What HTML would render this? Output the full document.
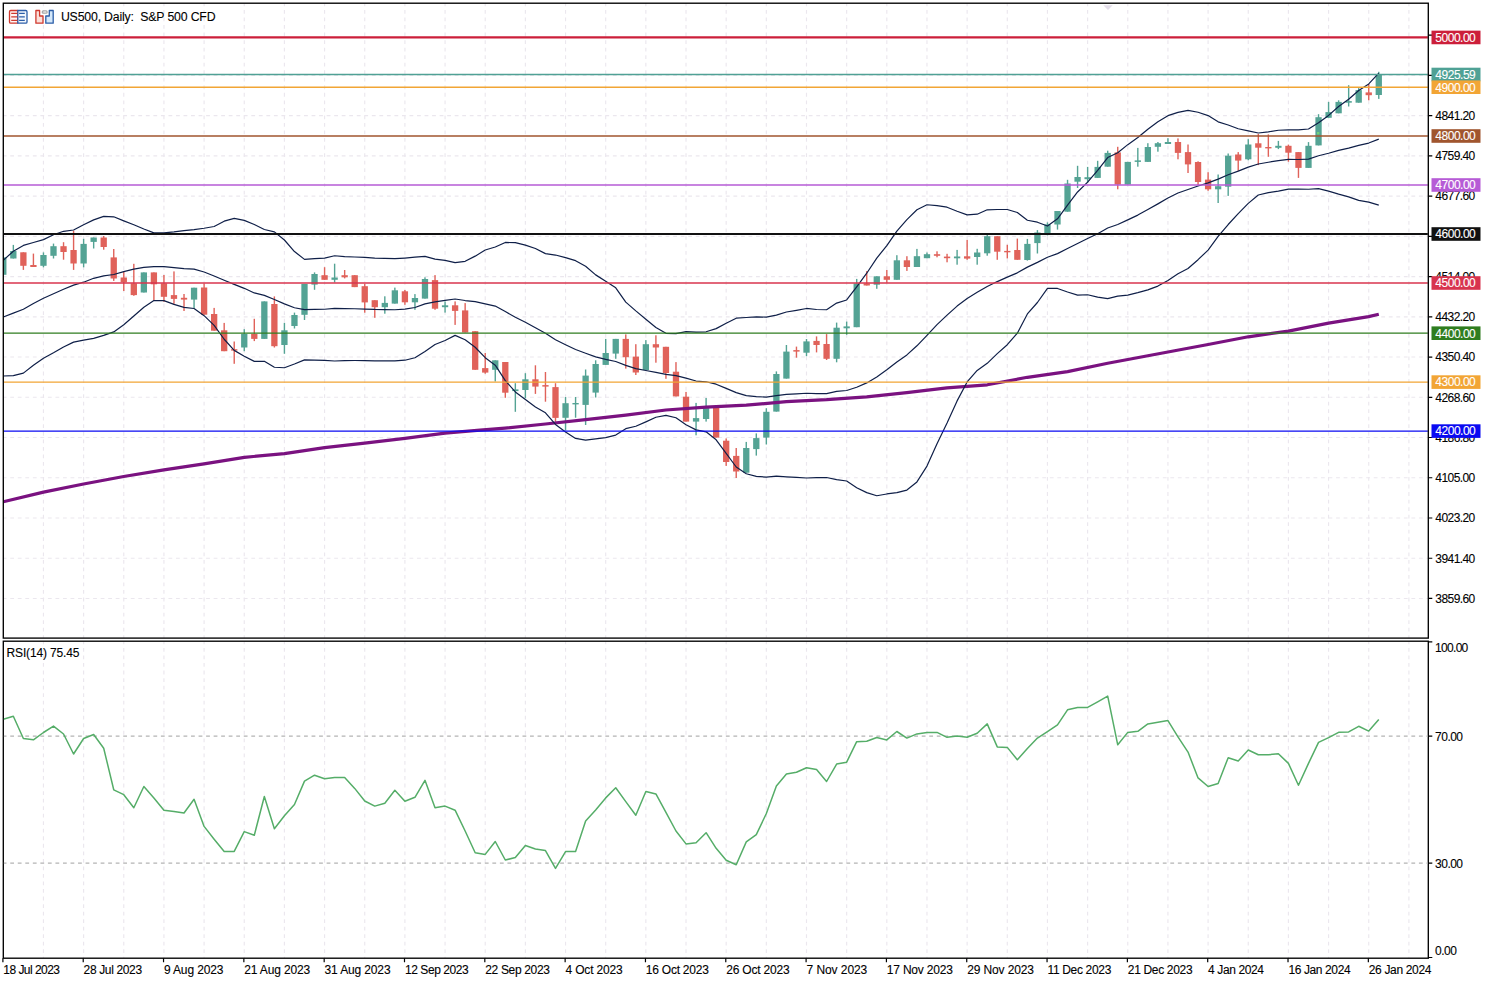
<!DOCTYPE html><html><head><meta charset="utf-8"><style>html,body{margin:0;padding:0;background:#fff;width:1488px;height:983px;overflow:hidden}svg{display:block}text{font-family:"Liberation Sans",sans-serif}</style></head><body>
<svg width="1488" height="983" viewBox="0 0 1488 983">
<defs><clipPath id="cm"><rect x="3.8" y="3.7" width="1424" height="634"/></clipPath><clipPath id="cr"><rect x="3.8" y="641.7" width="1424" height="316"/></clipPath></defs>
<path d="M43.46 3.2V638.1M43.46 641.2V958.2M83.62 3.2V638.1M83.62 641.2V958.2M123.78 3.2V638.1M123.78 641.2V958.2M163.94 3.2V638.1M163.94 641.2V958.2M204.1 3.2V638.1M204.1 641.2V958.2M244.26 3.2V638.1M244.26 641.2V958.2M284.42 3.2V638.1M284.42 641.2V958.2M324.58 3.2V638.1M324.58 641.2V958.2M364.74 3.2V638.1M364.74 641.2V958.2M404.9 3.2V638.1M404.9 641.2V958.2M445.06 3.2V638.1M445.06 641.2V958.2M485.22 3.2V638.1M485.22 641.2V958.2M525.38 3.2V638.1M525.38 641.2V958.2M565.54 3.2V638.1M565.54 641.2V958.2M605.7 3.2V638.1M605.7 641.2V958.2M645.86 3.2V638.1M645.86 641.2V958.2M686.02 3.2V638.1M686.02 641.2V958.2M726.18 3.2V638.1M726.18 641.2V958.2M766.34 3.2V638.1M766.34 641.2V958.2M806.5 3.2V638.1M806.5 641.2V958.2M846.66 3.2V638.1M846.66 641.2V958.2M886.82 3.2V638.1M886.82 641.2V958.2M926.98 3.2V638.1M926.98 641.2V958.2M967.14 3.2V638.1M967.14 641.2V958.2M1007.3 3.2V638.1M1007.3 641.2V958.2M1047.46 3.2V638.1M1047.46 641.2V958.2M1087.62 3.2V638.1M1087.62 641.2V958.2M1127.78 3.2V638.1M1127.78 641.2V958.2M1167.94 3.2V638.1M1167.94 641.2V958.2M1208.1 3.2V638.1M1208.1 641.2V958.2M1248.26 3.2V638.1M1248.26 641.2V958.2M1288.42 3.2V638.1M1288.42 641.2V958.2M1328.58 3.2V638.1M1328.58 641.2V958.2M1368.74 3.2V638.1M1368.74 641.2V958.2M1408.9 3.2V638.1M1408.9 641.2V958.2" stroke="#ebe7ee" stroke-width="1.15" stroke-dasharray="3.8 3.733" stroke-dashoffset="0.73" fill="none"/>
<path d="M3.3 75.38H1428.3M3.3 115.61H1428.3M3.3 155.85H1428.3M3.3 196.09H1428.3M3.3 236.33H1428.3M3.3 276.56H1428.3M3.3 316.8H1428.3M3.3 357.04H1428.3M3.3 397.28H1428.3M3.3 437.51H1428.3M3.3 477.75H1428.3M3.3 517.99H1428.3M3.3 558.23H1428.3M3.3 598.46H1428.3" stroke="#ebe7ee" stroke-width="1.15" stroke-dasharray="3.8 3.733" stroke-dashoffset="0.58" fill="none"/>
<path d="M1103.3 5.2H1112.7L1108 9.9z" fill="#e4deea"/>
<g clip-path="url(#cm)">
<rect x="2.6" y="257.4" width="1.4" height="17.4" fill="#54a394"/>
<rect x="0.15" y="257.4" width="6.3" height="17.4" fill="#54a394"/>
<rect x="12.64" y="244.9" width="1.4" height="13.6" fill="#54a394"/>
<rect x="10.19" y="251" width="6.3" height="7.5" fill="#54a394"/>
<rect x="22.68" y="252.3" width="1.4" height="17.6" fill="#e0625a"/>
<rect x="20.23" y="252.3" width="6.3" height="13.5" fill="#e0625a"/>
<rect x="32.72" y="253.6" width="1.4" height="13.4" fill="#e0625a"/>
<rect x="30.27" y="265" width="6.3" height="2" fill="#e0625a"/>
<rect x="42.76" y="252.4" width="1.4" height="14.9" fill="#54a394"/>
<rect x="40.31" y="255" width="6.3" height="10.8" fill="#54a394"/>
<rect x="52.8" y="243.6" width="1.4" height="14.9" fill="#54a394"/>
<rect x="50.35" y="246.2" width="6.3" height="9.6" fill="#54a394"/>
<rect x="62.84" y="242.2" width="1.4" height="17.5" fill="#e0625a"/>
<rect x="60.39" y="246.2" width="6.3" height="5.8" fill="#e0625a"/>
<rect x="72.88" y="230.7" width="1.4" height="39.2" fill="#e0625a"/>
<rect x="70.43" y="250" width="6.3" height="13.5" fill="#e0625a"/>
<rect x="82.92" y="238.8" width="1.4" height="28.5" fill="#54a394"/>
<rect x="80.47" y="243.9" width="6.3" height="19.6" fill="#54a394"/>
<rect x="92.96" y="237.5" width="1.4" height="11" fill="#54a394"/>
<rect x="90.51" y="237.5" width="6.3" height="4.4" fill="#54a394"/>
<rect x="103" y="236" width="1.4" height="13.7" fill="#e0625a"/>
<rect x="100.55" y="237.5" width="6.3" height="9.5" fill="#e0625a"/>
<rect x="113.04" y="249" width="1.4" height="31.9" fill="#e0625a"/>
<rect x="110.59" y="257.4" width="6.3" height="21.1" fill="#e0625a"/>
<rect x="123.08" y="271.4" width="1.4" height="19.6" fill="#e0625a"/>
<rect x="120.63" y="277.5" width="6.3" height="4.8" fill="#e0625a"/>
<rect x="133.12" y="263.8" width="1.4" height="32" fill="#e0625a"/>
<rect x="130.67" y="283.3" width="6.3" height="11.8" fill="#e0625a"/>
<rect x="143.16" y="272.4" width="1.4" height="20.1" fill="#54a394"/>
<rect x="140.71" y="272.4" width="6.3" height="20.1" fill="#54a394"/>
<rect x="153.2" y="272.4" width="1.4" height="28" fill="#e0625a"/>
<rect x="150.75" y="272.4" width="6.3" height="11.9" fill="#e0625a"/>
<rect x="163.24" y="275" width="1.4" height="26.9" fill="#e0625a"/>
<rect x="160.79" y="283.3" width="6.3" height="13.5" fill="#e0625a"/>
<rect x="173.28" y="271.4" width="1.4" height="32.5" fill="#e0625a"/>
<rect x="170.83" y="295.1" width="6.3" height="3.8" fill="#e0625a"/>
<rect x="183.32" y="294" width="1.4" height="17" fill="#e0625a"/>
<rect x="180.87" y="297.8" width="6.3" height="1.8" fill="#e0625a"/>
<rect x="193.36" y="287.7" width="1.4" height="20.3" fill="#54a394"/>
<rect x="190.91" y="287.7" width="6.3" height="11.9" fill="#54a394"/>
<rect x="203.4" y="283.5" width="1.4" height="31.2" fill="#e0625a"/>
<rect x="200.95" y="287.5" width="6.3" height="27.2" fill="#e0625a"/>
<rect x="213.44" y="307.9" width="1.4" height="22.8" fill="#e0625a"/>
<rect x="210.99" y="314" width="6.3" height="16.7" fill="#e0625a"/>
<rect x="223.48" y="322.9" width="1.4" height="28.3" fill="#e0625a"/>
<rect x="221.03" y="330.3" width="6.3" height="20.9" fill="#e0625a"/>
<rect x="233.52" y="341.5" width="1.4" height="22.3" fill="#e0625a"/>
<rect x="231.07" y="349.2" width="6.3" height="1.4" fill="#e0625a"/>
<rect x="243.56" y="329.2" width="1.4" height="22" fill="#54a394"/>
<rect x="241.11" y="333.9" width="6.3" height="13.6" fill="#54a394"/>
<rect x="253.6" y="318.8" width="1.4" height="22.3" fill="#e0625a"/>
<rect x="251.15" y="333.9" width="6.3" height="5" fill="#e0625a"/>
<rect x="263.64" y="301.4" width="1.4" height="37.5" fill="#54a394"/>
<rect x="261.19" y="301.4" width="6.3" height="37.5" fill="#54a394"/>
<rect x="273.68" y="296.4" width="1.4" height="51.1" fill="#e0625a"/>
<rect x="271.23" y="304" width="6.3" height="42.2" fill="#e0625a"/>
<rect x="283.72" y="322.9" width="1.4" height="30.9" fill="#54a394"/>
<rect x="281.27" y="330.3" width="6.3" height="14.7" fill="#54a394"/>
<rect x="293.76" y="312.6" width="1.4" height="15.9" fill="#54a394"/>
<rect x="291.31" y="315" width="6.3" height="11" fill="#54a394"/>
<rect x="303.8" y="283.9" width="1.4" height="36.1" fill="#54a394"/>
<rect x="301.35" y="283.9" width="6.3" height="30.9" fill="#54a394"/>
<rect x="313.84" y="272.4" width="1.4" height="17.4" fill="#54a394"/>
<rect x="311.39" y="274" width="6.3" height="10.6" fill="#54a394"/>
<rect x="323.88" y="267.2" width="1.4" height="12.6" fill="#e0625a"/>
<rect x="321.43" y="275.2" width="6.3" height="4.6" fill="#e0625a"/>
<rect x="333.92" y="263.7" width="1.4" height="18.8" fill="#54a394"/>
<rect x="331.47" y="277.5" width="6.3" height="2.3" fill="#54a394"/>
<rect x="343.96" y="270" width="1.4" height="8.4" fill="#e0625a"/>
<rect x="341.51" y="275.2" width="6.3" height="2.1" fill="#e0625a"/>
<rect x="354" y="275.2" width="1.4" height="11.9" fill="#e0625a"/>
<rect x="351.55" y="275.2" width="6.3" height="11.9" fill="#e0625a"/>
<rect x="364.04" y="283.9" width="1.4" height="28.8" fill="#e0625a"/>
<rect x="361.59" y="286.2" width="6.3" height="16.2" fill="#e0625a"/>
<rect x="374.08" y="300.2" width="1.4" height="17.6" fill="#e0625a"/>
<rect x="371.63" y="300.2" width="6.3" height="7" fill="#e0625a"/>
<rect x="384.12" y="296.3" width="1.4" height="17.4" fill="#54a394"/>
<rect x="381.67" y="302.9" width="6.3" height="4.3" fill="#54a394"/>
<rect x="394.16" y="287.6" width="1.4" height="16" fill="#54a394"/>
<rect x="391.71" y="290.3" width="6.3" height="13.3" fill="#54a394"/>
<rect x="404.2" y="290" width="1.4" height="14.8" fill="#e0625a"/>
<rect x="401.75" y="291.3" width="6.3" height="11" fill="#e0625a"/>
<rect x="414.24" y="294.1" width="1.4" height="15.7" fill="#54a394"/>
<rect x="411.79" y="298" width="6.3" height="4.3" fill="#54a394"/>
<rect x="424.28" y="277.3" width="1.4" height="21.3" fill="#54a394"/>
<rect x="421.83" y="279" width="6.3" height="19.6" fill="#54a394"/>
<rect x="434.32" y="275.1" width="1.4" height="34.7" fill="#e0625a"/>
<rect x="431.87" y="280.1" width="6.3" height="28.6" fill="#e0625a"/>
<rect x="444.36" y="301.4" width="1.4" height="11.2" fill="#54a394"/>
<rect x="441.91" y="305.3" width="6.3" height="1.9" fill="#54a394"/>
<rect x="454.4" y="301.4" width="1.4" height="23.5" fill="#e0625a"/>
<rect x="451.95" y="305.3" width="6.3" height="5.6" fill="#e0625a"/>
<rect x="464.44" y="303.1" width="1.4" height="29.4" fill="#e0625a"/>
<rect x="461.99" y="310.4" width="6.3" height="22.1" fill="#e0625a"/>
<rect x="474.48" y="331.2" width="1.4" height="38.6" fill="#e0625a"/>
<rect x="472.03" y="331.2" width="6.3" height="38.6" fill="#e0625a"/>
<rect x="484.52" y="353" width="1.4" height="20.7" fill="#e0625a"/>
<rect x="482.07" y="368.1" width="6.3" height="4.5" fill="#e0625a"/>
<rect x="494.56" y="360.3" width="1.4" height="21.2" fill="#54a394"/>
<rect x="492.11" y="360.3" width="6.3" height="9.5" fill="#54a394"/>
<rect x="504.6" y="362" width="1.4" height="35.8" fill="#e0625a"/>
<rect x="502.15" y="362" width="6.3" height="30.7" fill="#e0625a"/>
<rect x="514.64" y="383.2" width="1.4" height="28.6" fill="#54a394"/>
<rect x="512.19" y="389.4" width="6.3" height="1.7" fill="#54a394"/>
<rect x="524.68" y="373.2" width="1.4" height="25.1" fill="#54a394"/>
<rect x="522.23" y="379.3" width="6.3" height="10.7" fill="#54a394"/>
<rect x="534.72" y="365.3" width="1.4" height="28.6" fill="#e0625a"/>
<rect x="532.27" y="379.3" width="6.3" height="7.3" fill="#e0625a"/>
<rect x="544.76" y="372" width="1.4" height="29.7" fill="#e0625a"/>
<rect x="542.31" y="385.1" width="6.3" height="1.5" fill="#e0625a"/>
<rect x="554.8" y="383.2" width="1.4" height="38.6" fill="#e0625a"/>
<rect x="552.35" y="387.1" width="6.3" height="30.8" fill="#e0625a"/>
<rect x="564.84" y="397" width="1.4" height="33.5" fill="#54a394"/>
<rect x="562.39" y="403.2" width="6.3" height="14.6" fill="#54a394"/>
<rect x="574.88" y="397" width="1.4" height="20.7" fill="#54a394"/>
<rect x="572.43" y="403" width="6.3" height="1.4" fill="#54a394"/>
<rect x="584.92" y="369.5" width="1.4" height="55.5" fill="#54a394"/>
<rect x="582.47" y="375.6" width="6.3" height="29.3" fill="#54a394"/>
<rect x="594.96" y="360.3" width="1.4" height="37.2" fill="#54a394"/>
<rect x="592.51" y="364" width="6.3" height="28.6" fill="#54a394"/>
<rect x="605" y="338.9" width="1.4" height="26" fill="#54a394"/>
<rect x="602.55" y="353" width="6.3" height="11.9" fill="#54a394"/>
<rect x="615.04" y="338.9" width="1.4" height="19.9" fill="#54a394"/>
<rect x="612.59" y="338.9" width="6.3" height="14.7" fill="#54a394"/>
<rect x="625.08" y="334.4" width="1.4" height="34.2" fill="#e0625a"/>
<rect x="622.63" y="338.9" width="6.3" height="18.3" fill="#e0625a"/>
<rect x="635.12" y="344.2" width="1.4" height="30.8" fill="#e0625a"/>
<rect x="632.67" y="356.6" width="6.3" height="15.9" fill="#e0625a"/>
<rect x="645.16" y="340.1" width="1.4" height="29.9" fill="#54a394"/>
<rect x="642.71" y="344.2" width="6.3" height="25.8" fill="#54a394"/>
<rect x="655.2" y="335.3" width="1.4" height="27.4" fill="#e0625a"/>
<rect x="652.75" y="344.2" width="6.3" height="3.3" fill="#e0625a"/>
<rect x="665.24" y="346.8" width="1.4" height="32" fill="#e0625a"/>
<rect x="662.79" y="346.8" width="6.3" height="26.2" fill="#e0625a"/>
<rect x="675.28" y="362.1" width="1.4" height="34.3" fill="#e0625a"/>
<rect x="672.83" y="371.7" width="6.3" height="24.7" fill="#e0625a"/>
<rect x="685.32" y="391.9" width="1.4" height="29.7" fill="#e0625a"/>
<rect x="682.87" y="396.7" width="6.3" height="24.9" fill="#e0625a"/>
<rect x="695.36" y="402.9" width="1.4" height="32.4" fill="#54a394"/>
<rect x="692.91" y="418.1" width="6.3" height="3.5" fill="#54a394"/>
<rect x="705.4" y="398" width="1.4" height="23.6" fill="#54a394"/>
<rect x="702.95" y="407.9" width="6.3" height="11.1" fill="#54a394"/>
<rect x="715.44" y="407.9" width="1.4" height="29.7" fill="#e0625a"/>
<rect x="712.99" y="407.9" width="6.3" height="29.7" fill="#e0625a"/>
<rect x="725.48" y="438.4" width="1.4" height="27.5" fill="#e0625a"/>
<rect x="723.03" y="440.7" width="6.3" height="21.3" fill="#e0625a"/>
<rect x="735.52" y="448" width="1.4" height="30" fill="#e0625a"/>
<rect x="733.07" y="455.9" width="6.3" height="15.6" fill="#e0625a"/>
<rect x="745.56" y="441.9" width="1.4" height="30.8" fill="#54a394"/>
<rect x="743.11" y="448" width="6.3" height="24.7" fill="#54a394"/>
<rect x="755.6" y="433.4" width="1.4" height="22.2" fill="#54a394"/>
<rect x="753.15" y="438.1" width="6.3" height="11" fill="#54a394"/>
<rect x="765.64" y="408.2" width="1.4" height="36.3" fill="#54a394"/>
<rect x="763.19" y="411.8" width="6.3" height="25.8" fill="#54a394"/>
<rect x="775.68" y="371.4" width="1.4" height="40.2" fill="#54a394"/>
<rect x="773.23" y="374" width="6.3" height="37.6" fill="#54a394"/>
<rect x="785.72" y="345" width="1.4" height="33.6" fill="#54a394"/>
<rect x="783.27" y="351.6" width="6.3" height="27" fill="#54a394"/>
<rect x="795.76" y="346.6" width="1.4" height="11.1" fill="#e0625a"/>
<rect x="793.31" y="350.1" width="6.3" height="1.5" fill="#e0625a"/>
<rect x="805.8" y="339" width="1.4" height="17.2" fill="#54a394"/>
<rect x="803.35" y="341.4" width="6.3" height="11.3" fill="#54a394"/>
<rect x="815.84" y="336.4" width="1.4" height="16" fill="#e0625a"/>
<rect x="813.39" y="340.9" width="6.3" height="4.1" fill="#e0625a"/>
<rect x="825.88" y="334.1" width="1.4" height="25.9" fill="#e0625a"/>
<rect x="823.43" y="344" width="6.3" height="14.8" fill="#e0625a"/>
<rect x="835.92" y="322.6" width="1.4" height="39.7" fill="#54a394"/>
<rect x="833.47" y="327.7" width="6.3" height="31.1" fill="#54a394"/>
<rect x="845.96" y="321.6" width="1.4" height="13.2" fill="#54a394"/>
<rect x="843.51" y="326.4" width="6.3" height="1.9" fill="#54a394"/>
<rect x="856" y="278.9" width="1.4" height="48.3" fill="#54a394"/>
<rect x="853.55" y="283.4" width="6.3" height="43.8" fill="#54a394"/>
<rect x="866.04" y="271.1" width="1.4" height="14.4" fill="#e0625a"/>
<rect x="863.59" y="283.4" width="6.3" height="2.1" fill="#e0625a"/>
<rect x="876.08" y="276.3" width="1.4" height="12.5" fill="#54a394"/>
<rect x="873.63" y="276.3" width="6.3" height="8.4" fill="#54a394"/>
<rect x="886.12" y="270" width="1.4" height="12.8" fill="#e0625a"/>
<rect x="883.67" y="276.3" width="6.3" height="3.5" fill="#e0625a"/>
<rect x="896.16" y="255.2" width="1.4" height="24.6" fill="#54a394"/>
<rect x="893.71" y="260.3" width="6.3" height="19.5" fill="#54a394"/>
<rect x="906.2" y="256.2" width="1.4" height="14.7" fill="#e0625a"/>
<rect x="903.75" y="260.3" width="6.3" height="6.7" fill="#e0625a"/>
<rect x="916.24" y="248.9" width="1.4" height="18.1" fill="#54a394"/>
<rect x="913.79" y="256.2" width="6.3" height="10.8" fill="#54a394"/>
<rect x="926.28" y="252.5" width="1.4" height="5.7" fill="#54a394"/>
<rect x="923.83" y="254.2" width="6.3" height="4" fill="#54a394"/>
<rect x="936.32" y="251.3" width="1.4" height="6" fill="#e0625a"/>
<rect x="933.87" y="254.2" width="6.3" height="1.6" fill="#e0625a"/>
<rect x="946.36" y="253.8" width="1.4" height="8.5" fill="#e0625a"/>
<rect x="943.91" y="256.6" width="6.3" height="1.6" fill="#e0625a"/>
<rect x="956.4" y="249.9" width="1.4" height="14.8" fill="#54a394"/>
<rect x="953.95" y="256.5" width="6.3" height="1.8" fill="#54a394"/>
<rect x="966.44" y="239.9" width="1.4" height="19.9" fill="#e0625a"/>
<rect x="963.99" y="256.3" width="6.3" height="2.3" fill="#e0625a"/>
<rect x="976.48" y="248.8" width="1.4" height="15.9" fill="#54a394"/>
<rect x="974.03" y="252.5" width="6.3" height="4.5" fill="#54a394"/>
<rect x="986.52" y="235" width="1.4" height="20.7" fill="#54a394"/>
<rect x="984.07" y="236.2" width="6.3" height="17.1" fill="#54a394"/>
<rect x="996.56" y="236.2" width="1.4" height="23.6" fill="#e0625a"/>
<rect x="994.11" y="236.2" width="6.3" height="15.5" fill="#e0625a"/>
<rect x="1006.6" y="244.8" width="1.4" height="13.6" fill="#e0625a"/>
<rect x="1004.15" y="250.9" width="6.3" height="1.4" fill="#e0625a"/>
<rect x="1016.64" y="238.6" width="1.4" height="21.2" fill="#e0625a"/>
<rect x="1014.19" y="250" width="6.3" height="9.8" fill="#e0625a"/>
<rect x="1026.68" y="238.9" width="1.4" height="21.7" fill="#54a394"/>
<rect x="1024.23" y="243.9" width="6.3" height="16.1" fill="#54a394"/>
<rect x="1036.72" y="230.1" width="1.4" height="23.4" fill="#54a394"/>
<rect x="1034.27" y="232.5" width="6.3" height="10.6" fill="#54a394"/>
<rect x="1046.76" y="222.4" width="1.4" height="13" fill="#54a394"/>
<rect x="1044.31" y="224.4" width="6.3" height="10.2" fill="#54a394"/>
<rect x="1056.8" y="211" width="1.4" height="18.6" fill="#54a394"/>
<rect x="1054.35" y="211" width="6.3" height="13.5" fill="#54a394"/>
<rect x="1066.84" y="179.8" width="1.4" height="31.9" fill="#54a394"/>
<rect x="1064.39" y="183.5" width="6.3" height="28.2" fill="#54a394"/>
<rect x="1076.88" y="165.8" width="1.4" height="22.2" fill="#54a394"/>
<rect x="1074.43" y="177" width="6.3" height="4.7" fill="#54a394"/>
<rect x="1086.92" y="166.9" width="1.4" height="15.7" fill="#54a394"/>
<rect x="1084.47" y="177.2" width="6.3" height="2" fill="#54a394"/>
<rect x="1096.96" y="160.8" width="1.4" height="17.1" fill="#54a394"/>
<rect x="1094.51" y="166.9" width="6.3" height="11" fill="#54a394"/>
<rect x="1107" y="150.7" width="1.4" height="16" fill="#54a394"/>
<rect x="1104.55" y="152.9" width="6.3" height="13.8" fill="#54a394"/>
<rect x="1117.04" y="146.8" width="1.4" height="42.5" fill="#e0625a"/>
<rect x="1114.59" y="152.4" width="6.3" height="32.2" fill="#e0625a"/>
<rect x="1127.08" y="161.9" width="1.4" height="22.7" fill="#54a394"/>
<rect x="1124.63" y="161.9" width="6.3" height="22.7" fill="#54a394"/>
<rect x="1137.12" y="147.9" width="1.4" height="18.8" fill="#54a394"/>
<rect x="1134.67" y="160.4" width="6.3" height="1.5" fill="#54a394"/>
<rect x="1147.16" y="143.2" width="1.4" height="18.7" fill="#54a394"/>
<rect x="1144.71" y="147" width="6.3" height="14.9" fill="#54a394"/>
<rect x="1157.2" y="142" width="1.4" height="9.7" fill="#54a394"/>
<rect x="1154.75" y="143.2" width="6.3" height="3.6" fill="#54a394"/>
<rect x="1167.24" y="138.2" width="1.4" height="5.8" fill="#54a394"/>
<rect x="1164.79" y="142" width="6.3" height="2" fill="#54a394"/>
<rect x="1177.28" y="138.4" width="1.4" height="20.9" fill="#e0625a"/>
<rect x="1174.83" y="142" width="6.3" height="10.9" fill="#e0625a"/>
<rect x="1187.32" y="144.5" width="1.4" height="28.5" fill="#e0625a"/>
<rect x="1184.87" y="152.1" width="6.3" height="12.3" fill="#e0625a"/>
<rect x="1197.36" y="161.3" width="1.4" height="23.9" fill="#e0625a"/>
<rect x="1194.91" y="162" width="6.3" height="20" fill="#e0625a"/>
<rect x="1207.4" y="172.2" width="1.4" height="18.6" fill="#e0625a"/>
<rect x="1204.95" y="179.6" width="6.3" height="9.7" fill="#e0625a"/>
<rect x="1217.44" y="174.5" width="1.4" height="28.5" fill="#54a394"/>
<rect x="1214.99" y="186.2" width="6.3" height="3.1" fill="#54a394"/>
<rect x="1227.48" y="153.5" width="1.4" height="42.4" fill="#54a394"/>
<rect x="1225.03" y="155.7" width="6.3" height="31" fill="#54a394"/>
<rect x="1237.52" y="152.1" width="1.4" height="18.7" fill="#e0625a"/>
<rect x="1235.07" y="154.5" width="6.3" height="6.1" fill="#e0625a"/>
<rect x="1247.56" y="139.2" width="1.4" height="21.1" fill="#54a394"/>
<rect x="1245.11" y="144.5" width="6.3" height="14.8" fill="#54a394"/>
<rect x="1257.6" y="134" width="1.4" height="31.1" fill="#e0625a"/>
<rect x="1255.15" y="143.3" width="6.3" height="4.4" fill="#e0625a"/>
<rect x="1267.64" y="134.4" width="1.4" height="22.4" fill="#e0625a"/>
<rect x="1265.19" y="147" width="6.3" height="1.4" fill="#e0625a"/>
<rect x="1277.68" y="140.9" width="1.4" height="8.2" fill="#54a394"/>
<rect x="1275.23" y="145.8" width="6.3" height="2" fill="#54a394"/>
<rect x="1287.72" y="144.6" width="1.4" height="17.1" fill="#e0625a"/>
<rect x="1285.27" y="145.8" width="6.3" height="6.9" fill="#e0625a"/>
<rect x="1297.76" y="152.1" width="1.4" height="25.8" fill="#e0625a"/>
<rect x="1295.31" y="152.1" width="6.3" height="15.8" fill="#e0625a"/>
<rect x="1307.8" y="142.1" width="1.4" height="25.8" fill="#54a394"/>
<rect x="1305.35" y="145.8" width="6.3" height="22.1" fill="#54a394"/>
<rect x="1317.84" y="114.2" width="1.4" height="31.2" fill="#54a394"/>
<rect x="1315.39" y="117.2" width="6.3" height="28.2" fill="#54a394"/>
<rect x="1327.88" y="101.9" width="1.4" height="15.9" fill="#54a394"/>
<rect x="1325.43" y="112.1" width="6.3" height="5.7" fill="#54a394"/>
<rect x="1337.92" y="100.3" width="1.4" height="13" fill="#54a394"/>
<rect x="1335.47" y="101.9" width="6.3" height="11.4" fill="#54a394"/>
<rect x="1347.96" y="85.2" width="1.4" height="21.3" fill="#54a394"/>
<rect x="1345.51" y="101.1" width="6.3" height="1.6" fill="#54a394"/>
<rect x="1358" y="88.1" width="1.4" height="14.6" fill="#54a394"/>
<rect x="1355.55" y="90.1" width="6.3" height="12.6" fill="#54a394"/>
<rect x="1368.04" y="84" width="1.4" height="16.3" fill="#e0625a"/>
<rect x="1365.59" y="92.4" width="6.3" height="2.8" fill="#e0625a"/>
<rect x="1378.08" y="71.8" width="1.4" height="27.1" fill="#54a394"/>
<rect x="1375.63" y="74.5" width="6.3" height="20.5" fill="#54a394"/>
<polyline points="3.3,501.8 43.5,492.1 83.6,484 123.7,476.5 163.9,469.8 204,463.9 244.3,457.3 284.4,453.7 324.6,447.6 364.7,443.2 404.9,438.4 445,433.1 480,430.2 505,428.1 545.5,424 585.6,419.7 625.8,415.2 665.9,410 706,407.1 746.3,405.2 786.4,401.6 826.6,399.7 866.7,396.8 906.8,392.7 946.9,387.9 987.3,384.8 1027.4,377.3 1067.6,371.6 1107.7,363.2 1147.9,355.8 1188,348.2 1208.1,344.5 1248.3,336.8 1288.4,331.1 1328.6,323.1 1368.7,316.6 1378.8,314.2" stroke="#7a1280" stroke-width="3.2" fill="none" stroke-linejoin="round"/>
<polyline points="3.3,260.3 13.34,251.2 23.38,245.4 33.42,242.5 43.46,239.6 53.5,234.8 63.54,231.3 73.58,230 83.62,224.8 93.66,219.9 103.7,216.4 113.74,216.8 123.78,220.9 133.82,224.8 143.86,229 153.9,232.9 163.94,232.9 173.98,231.9 184.02,230.6 194.06,229.7 204.1,228.28 214.14,226.48 224.18,221.17 234.22,218.35 244.26,220.39 254.3,224.5 264.34,229.54 274.38,231.85 284.42,240.01 294.46,251.52 304.5,259.35 314.54,258.54 324.58,258.14 334.62,255.73 344.66,256.6 354.7,256.99 364.74,257.47 374.78,258.09 384.82,258.36 394.86,258.7 404.9,258.03 414.94,257.18 424.98,256.35 435.02,259.16 445.06,260.29 455.1,262.58 465.14,261.31 475.18,256.15 485.22,249.98 495.26,247 505.3,242.43 515.34,242.65 525.38,245.07 535.42,248.55 545.46,253.61 555.5,255.04 565.54,257.61 575.58,260.67 585.62,266.31 595.66,274.87 605.7,281.26 615.74,287.84 625.78,302.1 635.82,310.85 645.86,319.19 655.9,327.44 665.94,333.35 675.98,333.65 686.02,331.63 696.06,332.19 706.1,331.79 716.14,328.63 726.18,323.34 736.22,318.18 746.26,317.52 756.3,316.9 766.34,317.1 776.38,315.08 786.42,312.03 796.46,310.32 806.5,308.47 816.54,309.51 826.58,309.73 836.62,303.08 846.66,299.97 856.7,286.9 866.74,273.22 876.78,258.06 886.82,245.68 896.86,231.18 906.9,219.69 916.94,209.7 926.98,204.75 937.02,205.58 947.06,207.2 957.1,211.26 967.14,214.92 977.18,214.22 987.22,209.78 997.26,209.5 1007.3,209.49 1017.34,212.53 1027.38,220.24 1037.42,222.2 1047.46,226.03 1057.5,218.8 1067.54,205.06 1077.58,191.99 1087.62,182.11 1097.66,170.41 1107.7,157.56 1117.74,152.8 1127.78,144.64 1137.82,137.53 1147.86,129.23 1157.9,121.66 1167.94,115.64 1177.98,112.41 1188.02,110.45 1198.06,112.28 1208.1,115.61 1218.14,121.85 1228.18,124.97 1238.22,128.74 1248.26,130.96 1258.3,132.98 1268.34,131.83 1278.38,130.26 1288.42,129.84 1298.46,129.83 1308.5,129.01 1318.54,122.84 1328.58,115.42 1338.62,106.57 1348.66,99.28 1358.7,90.47 1368.74,83.92 1378.78,73.14" stroke="#0f1f48" stroke-width="1.2" fill="none" stroke-linejoin="round"/>
<polyline points="3.3,317 13.34,313.1 23.38,309.3 33.42,303.5 43.46,298.2 53.5,293.8 63.54,289.3 73.58,285.1 83.62,282.2 93.66,278.3 103.7,275.8 113.74,274.5 123.78,271.6 133.82,269.2 143.86,267.3 153.9,266.7 163.94,266.7 173.98,267.7 184.02,268.7 194.06,269.09 204.1,271.96 214.14,275.94 224.18,280.21 234.22,284.37 244.26,288.32 254.3,292.95 264.34,295.42 274.38,299.55 284.42,303.87 294.46,307.75 304.5,309.59 314.54,309.37 324.58,309.24 334.62,308.37 344.66,308.61 354.7,308.75 364.74,309.03 374.78,309.45 384.82,309.61 394.86,309.74 404.9,309.12 414.94,307.49 424.98,303.88 435.02,301.81 445.06,300.38 455.1,298.98 465.14,300.53 475.18,301.71 485.22,303.83 495.26,306.09 505.3,311.53 515.34,317.3 525.38,322.27 535.42,327.73 545.46,333.19 555.5,339.74 565.54,344.78 575.58,349.56 585.62,353.2 595.66,356.88 605.7,359.42 615.74,361.47 625.78,365.37 635.82,368.56 645.86,370.51 655.9,372.34 665.94,374.37 675.98,375.69 686.02,378.14 696.06,381.03 706.1,381.79 716.14,384.2 726.18,388.34 736.22,392.58 746.26,395.66 756.3,396.67 766.34,397.1 776.38,395.65 786.42,394.45 796.46,393.83 806.5,393.25 816.54,393.55 826.58,393.63 836.62,391.39 846.66,390.5 856.7,387.3 866.74,382.92 876.78,376.92 886.82,369.83 896.86,361.94 906.9,354.89 916.94,345.82 926.98,335.43 937.02,324.65 947.06,315.16 957.1,306.07 967.14,298.41 977.18,292.34 987.22,286.57 997.26,281.58 1007.3,277.11 1017.34,272.85 1027.38,267.11 1037.42,262.35 1047.46,257.25 1057.5,253.62 1067.54,248.52 1077.58,243.56 1087.62,238.43 1097.66,233.76 1107.7,228.06 1117.74,224.47 1127.78,219.86 1137.82,215.09 1147.86,209.53 1157.9,203.86 1167.94,198.04 1177.98,193.06 1188.02,189.47 1198.06,185.98 1208.1,182.84 1218.14,179.16 1228.18,174.75 1238.22,171.15 1248.26,167.16 1258.3,163.99 1268.34,162.22 1278.38,160.66 1288.42,159.44 1298.46,159.49 1308.5,159.13 1318.54,155.76 1328.58,153.27 1338.62,150.35 1348.66,148.06 1358.7,145.4 1368.74,143.06 1378.78,139.14" stroke="#0f1f48" stroke-width="1.2" fill="none" stroke-linejoin="round"/>
<polyline points="3.3,376 13.34,375.6 23.38,373.1 33.42,365.3 43.46,358.2 53.5,352.8 63.54,347 73.58,342.1 83.62,340.2 93.66,338.3 103.7,335.4 113.74,331.9 123.78,324.7 133.82,316 143.86,307.3 153.9,300.6 163.94,300.6 173.98,304.4 184.02,307.3 194.06,308.49 204.1,315.64 214.14,325.41 224.18,339.26 234.22,350.39 244.26,356.24 254.3,361.4 264.34,361.3 274.38,367.26 284.42,367.74 294.46,363.98 304.5,359.84 314.54,360.2 324.58,360.35 334.62,361 344.66,360.62 354.7,360.51 364.74,360.59 374.78,360.8 384.82,360.86 394.86,360.78 404.9,360.21 414.94,357.79 424.98,351.4 435.02,344.45 445.06,340.46 455.1,335.37 465.14,339.75 475.18,347.27 485.22,357.67 495.26,365.18 505.3,380.63 515.34,391.95 525.38,399.48 535.42,406.91 545.46,412.78 555.5,424.43 565.54,431.94 575.58,438.46 585.62,440.09 595.66,438.9 605.7,437.58 615.74,435.09 625.78,428.65 635.82,426.28 645.86,421.83 655.9,417.24 665.94,415.38 675.98,417.74 686.02,424.66 696.06,429.88 706.1,431.8 716.14,439.78 726.18,453.34 736.22,466.99 746.26,473.79 756.3,476.43 766.34,477.09 776.38,476.21 786.42,476.86 796.46,477.33 806.5,478.02 816.54,477.59 826.58,477.53 836.62,479.7 846.66,481.03 856.7,487.69 866.74,492.62 876.78,495.77 886.82,493.97 896.86,492.69 906.9,490.09 916.94,481.94 926.98,466.11 937.02,443.71 947.06,423.11 957.1,400.89 967.14,381.91 977.18,370.46 987.22,363.36 997.26,353.65 1007.3,344.73 1017.34,333.17 1027.38,313.97 1037.42,302.49 1047.46,288.46 1057.5,288.45 1067.54,291.99 1077.58,295.13 1087.62,294.75 1097.66,297.11 1107.7,298.55 1117.74,296.15 1127.78,295.08 1137.82,292.65 1147.86,289.83 1157.9,286.07 1167.94,280.43 1177.98,273.7 1188.02,268.48 1198.06,259.68 1208.1,250.07 1218.14,236.47 1228.18,224.53 1238.22,213.57 1248.26,203.36 1258.3,195.01 1268.34,192.62 1278.38,191.07 1288.42,189.04 1298.46,189.15 1308.5,189.26 1318.54,188.69 1328.58,191.13 1338.62,194.13 1348.66,196.83 1358.7,200.33 1368.74,202.2 1378.78,205.14" stroke="#0f1f48" stroke-width="1.2" fill="none" stroke-linejoin="round"/>
<path d="M3.3 37.45H1428.3" stroke="#cc1f3a" stroke-width="2.2"/>
<path d="M3.3 74.5H1428.3" stroke="#4fa195" stroke-width="1.3"/>
<path d="M3.3 87.2H1428.3" stroke="#f2a535" stroke-width="1.5"/>
<path d="M3.3 136H1428.3" stroke="#a0552e" stroke-width="1.5"/>
<path d="M3.3 185H1428.3" stroke="#b65bd6" stroke-width="1.5"/>
<path d="M3.3 234H1428.3" stroke="#111111" stroke-width="2"/>
<path d="M3.3 283H1428.3" stroke="#d8344e" stroke-width="1.5"/>
<path d="M3.3 333.2H1428.3" stroke="#2f7d1f" stroke-width="1.3"/>
<path d="M3.3 382.1H1428.3" stroke="#f2a535" stroke-width="1.3"/>
<path d="M3.3 431.1H1428.3" stroke="#0a0af2" stroke-width="1.3"/>
<rect x="1317" y="132" width="2.4" height="2.4" fill="#6fd07a"/>
</g>
<rect x="3.3" y="3.2" width="1425" height="634.9" fill="none" stroke="#000" stroke-width="1.35"/>
<rect x="3.3" y="641.2" width="1425" height="317" fill="none" stroke="#000" stroke-width="1.35"/>
<text x="1435.3" y="119.91" font-size="12" fill="#000" stroke="#000" stroke-width="0.1" textLength="40" lengthAdjust="spacing">4841.20</text>
<text x="1435.3" y="160.15" font-size="12" fill="#000" stroke="#000" stroke-width="0.1" textLength="40" lengthAdjust="spacing">4759.40</text>
<text x="1435.3" y="200.39" font-size="12" fill="#000" stroke="#000" stroke-width="0.1" textLength="40" lengthAdjust="spacing">4677.60</text>
<text x="1435.3" y="280.86" font-size="12" fill="#000" stroke="#000" stroke-width="0.1" textLength="40" lengthAdjust="spacing">4514.00</text>
<text x="1435.3" y="321.1" font-size="12" fill="#000" stroke="#000" stroke-width="0.1" textLength="40" lengthAdjust="spacing">4432.20</text>
<text x="1435.3" y="361.34" font-size="12" fill="#000" stroke="#000" stroke-width="0.1" textLength="40" lengthAdjust="spacing">4350.40</text>
<text x="1435.3" y="401.58" font-size="12" fill="#000" stroke="#000" stroke-width="0.1" textLength="40" lengthAdjust="spacing">4268.60</text>
<text x="1435.3" y="441.81" font-size="12" fill="#000" stroke="#000" stroke-width="0.1" textLength="40" lengthAdjust="spacing">4186.80</text>
<text x="1435.3" y="482.05" font-size="12" fill="#000" stroke="#000" stroke-width="0.1" textLength="40" lengthAdjust="spacing">4105.00</text>
<text x="1435.3" y="522.29" font-size="12" fill="#000" stroke="#000" stroke-width="0.1" textLength="40" lengthAdjust="spacing">4023.20</text>
<text x="1435.3" y="562.53" font-size="12" fill="#000" stroke="#000" stroke-width="0.1" textLength="40" lengthAdjust="spacing">3941.40</text>
<text x="1435.3" y="602.76" font-size="12" fill="#000" stroke="#000" stroke-width="0.1" textLength="40" lengthAdjust="spacing">3859.60</text>
<path d="M1428.3 35.14h4M1428.3 75.38h4M1428.3 115.61h4M1428.3 155.85h4M1428.3 196.09h4M1428.3 236.33h4M1428.3 276.56h4M1428.3 316.8h4M1428.3 357.04h4M1428.3 397.28h4M1428.3 437.51h4M1428.3 477.75h4M1428.3 517.99h4M1428.3 558.23h4M1428.3 598.46h4" stroke="#000" stroke-width="1.2"/>
<rect x="1431.5" y="30.65" width="49" height="13.6" fill="#cc1f3a"/>
<text x="1435.3" y="41.75" font-size="12" fill="#fff" stroke="#fff" stroke-width="0.1" textLength="40.5" lengthAdjust="spacing">5000.00</text>
<rect x="1431.5" y="67.7" width="49" height="13.6" fill="#4fa195"/>
<text x="1435.3" y="78.8" font-size="12" fill="#fff" stroke="#fff" stroke-width="0.1" textLength="40.5" lengthAdjust="spacing">4925.59</text>
<rect x="1431.5" y="80.4" width="49" height="13.6" fill="#f2a535"/>
<text x="1435.3" y="91.5" font-size="12" fill="#fff" stroke="#fff" stroke-width="0.1" textLength="40.5" lengthAdjust="spacing">4900.00</text>
<rect x="1431.5" y="129.2" width="49" height="13.6" fill="#a0552e"/>
<text x="1435.3" y="140.3" font-size="12" fill="#fff" stroke="#fff" stroke-width="0.1" textLength="40.5" lengthAdjust="spacing">4800.00</text>
<rect x="1431.5" y="178.2" width="49" height="13.6" fill="#b65bd6"/>
<text x="1435.3" y="189.3" font-size="12" fill="#fff" stroke="#fff" stroke-width="0.1" textLength="40.5" lengthAdjust="spacing">4700.00</text>
<rect x="1431.5" y="227.2" width="49" height="13.6" fill="#111111"/>
<text x="1435.3" y="238.3" font-size="12" fill="#fff" stroke="#fff" stroke-width="0.1" textLength="40.5" lengthAdjust="spacing">4600.00</text>
<rect x="1431.5" y="276.2" width="49" height="13.6" fill="#d8344e"/>
<text x="1435.3" y="287.3" font-size="12" fill="#fff" stroke="#fff" stroke-width="0.1" textLength="40.5" lengthAdjust="spacing">4500.00</text>
<rect x="1431.5" y="326.4" width="49" height="13.6" fill="#2f7d1f"/>
<text x="1435.3" y="337.5" font-size="12" fill="#fff" stroke="#fff" stroke-width="0.1" textLength="40.5" lengthAdjust="spacing">4400.00</text>
<rect x="1431.5" y="375.3" width="49" height="13.6" fill="#f2a535"/>
<text x="1435.3" y="386.4" font-size="12" fill="#fff" stroke="#fff" stroke-width="0.1" textLength="40.5" lengthAdjust="spacing">4300.00</text>
<rect x="1431.5" y="424.3" width="49" height="13.6" fill="#0a0af2"/>
<text x="1435.3" y="435.4" font-size="12" fill="#fff" stroke="#fff" stroke-width="0.1" textLength="40.5" lengthAdjust="spacing">4200.00</text>
<g clip-path="url(#cr)">
<path d="M3.3 736.1H1428.3M3.3 863.1H1428.3" stroke="#b4b4b4" stroke-width="1.3" stroke-dasharray="3.8 3.733" stroke-dashoffset="0.6"/>
<polyline points="3.3,719.3 13.34,716.2 23.38,738.5 33.42,739.8 43.46,732.5 53.5,726.1 63.54,734 73.58,754 83.62,738.5 93.66,734.5 103.7,748.2 113.74,789.8 123.78,794.7 133.82,807.7 143.86,786.5 153.9,798 163.94,810.3 173.98,811.4 184.02,813 194.06,799.3 204.1,826.4 214.14,839.2 224.18,851.5 234.22,851.4 244.26,831.6 254.3,835.2 264.34,796.5 274.38,828.7 284.42,815.8 294.46,804.5 304.5,781.1 314.54,775.2 324.58,778.7 334.62,777.6 344.66,777.6 354.7,788.4 364.74,801 374.78,806.1 384.82,803.2 394.86,790.3 404.9,801.3 414.94,797.3 424.98,780.3 435.02,807.7 445.06,806.1 455.1,810.2 465.14,831 475.18,852.7 485.22,854.4 495.26,841.5 505.3,860 515.34,857.6 525.38,845.5 535.42,849 545.46,850.6 555.5,868.4 565.54,851.6 575.58,851.6 585.62,821 595.66,810 605.7,797.9 615.74,787.7 625.78,801.6 635.82,815.2 645.86,791.5 655.9,793.9 665.94,812.4 675.98,831 686.02,843.9 696.06,842.7 706.1,832.7 716.14,848.3 726.18,860.2 736.22,864.8 746.26,841.9 756.3,834.6 766.34,813.5 776.38,786 786.42,774.1 796.46,772.3 806.5,767.7 816.54,769.6 826.58,781.5 836.62,764.1 846.66,762.2 856.7,741.7 866.74,741.2 876.78,737.5 886.82,739.9 896.86,731.5 906.9,738.1 916.94,733.9 926.98,732.5 937.02,732.4 947.06,737.3 957.1,736.1 967.14,737.3 977.18,733.2 987.22,723.9 997.26,746.9 1007.3,747.4 1017.34,759.8 1027.38,748.5 1037.42,738.1 1047.46,731.6 1057.5,724.8 1067.54,709.8 1077.58,707.4 1087.62,707.4 1097.66,701.8 1107.7,696.1 1117.74,744.8 1127.78,732.4 1137.82,731.3 1147.86,723.9 1157.9,722.3 1167.94,720.6 1177.98,736.8 1188.02,752.1 1198.06,777.9 1208.1,786.5 1218.14,783.5 1228.18,757.7 1238.22,761 1248.26,750 1258.3,754.8 1268.34,754.8 1278.38,753.7 1288.42,763.4 1298.46,785.2 1308.5,763.4 1318.54,742.4 1328.58,737.6 1338.62,732.3 1348.66,731.9 1358.7,726.3 1368.74,731.1 1378.78,719.4" stroke="#55ad68" stroke-width="1.5" fill="none" stroke-linejoin="round"/>
</g>
<text x="6.6" y="657" font-size="12" fill="#000" stroke="#000" stroke-width="0.1" textLength="72.8" lengthAdjust="spacing">RSI(14) 75.45</text>
<text x="1435.1" y="651.8" font-size="12" fill="#000" stroke="#000" stroke-width="0.1" textLength="33.2" lengthAdjust="spacing">100.00</text>
<text x="1435.1" y="740.8" font-size="12" fill="#000" stroke="#000" stroke-width="0.1" textLength="27.9" lengthAdjust="spacing">70.00</text>
<text x="1435.1" y="868.2" font-size="12" fill="#000" stroke="#000" stroke-width="0.1" textLength="27.9" lengthAdjust="spacing">30.00</text>
<text x="1435.1" y="955.1" font-size="12" fill="#000" stroke="#000" stroke-width="0.1" textLength="21.8" lengthAdjust="spacing">0.00</text>
<path d="M1428.3 641.8h4M1428.3 736.1h4M1428.3 863.1h4M1428.3 957.5h4" stroke="#000" stroke-width="1.2"/>
<text x="3.3" y="973.8" font-size="12" fill="#000" stroke="#000" stroke-width="0.1" textLength="56.7" lengthAdjust="spacing">18 Jul 2023</text>
<text x="83.62" y="973.8" font-size="12" fill="#000" stroke="#000" stroke-width="0.1" textLength="58.5" lengthAdjust="spacing">28 Jul 2023</text>
<text x="163.94" y="973.8" font-size="12" fill="#000" stroke="#000" stroke-width="0.1" textLength="59.5" lengthAdjust="spacing">9 Aug 2023</text>
<text x="244.26" y="973.8" font-size="12" fill="#000" stroke="#000" stroke-width="0.1" textLength="65.9" lengthAdjust="spacing">21 Aug 2023</text>
<text x="324.58" y="973.8" font-size="12" fill="#000" stroke="#000" stroke-width="0.1" textLength="66" lengthAdjust="spacing">31 Aug 2023</text>
<text x="404.9" y="973.8" font-size="12" fill="#000" stroke="#000" stroke-width="0.1" textLength="63.9" lengthAdjust="spacing">12 Sep 2023</text>
<text x="485.22" y="973.8" font-size="12" fill="#000" stroke="#000" stroke-width="0.1" textLength="64.7" lengthAdjust="spacing">22 Sep 2023</text>
<text x="565.54" y="973.8" font-size="12" fill="#000" stroke="#000" stroke-width="0.1" textLength="57.1" lengthAdjust="spacing">4 Oct 2023</text>
<text x="645.86" y="973.8" font-size="12" fill="#000" stroke="#000" stroke-width="0.1" textLength="63" lengthAdjust="spacing">16 Oct 2023</text>
<text x="726.18" y="973.8" font-size="12" fill="#000" stroke="#000" stroke-width="0.1" textLength="63.5" lengthAdjust="spacing">26 Oct 2023</text>
<text x="806.5" y="973.8" font-size="12" fill="#000" stroke="#000" stroke-width="0.1" textLength="60.8" lengthAdjust="spacing">7 Nov 2023</text>
<text x="886.82" y="973.8" font-size="12" fill="#000" stroke="#000" stroke-width="0.1" textLength="66" lengthAdjust="spacing">17 Nov 2023</text>
<text x="967.14" y="973.8" font-size="12" fill="#000" stroke="#000" stroke-width="0.1" textLength="66.9" lengthAdjust="spacing">29 Nov 2023</text>
<text x="1047.46" y="973.8" font-size="12" fill="#000" stroke="#000" stroke-width="0.1" textLength="63.9" lengthAdjust="spacing">11 Dec 2023</text>
<text x="1127.78" y="973.8" font-size="12" fill="#000" stroke="#000" stroke-width="0.1" textLength="64.8" lengthAdjust="spacing">21 Dec 2023</text>
<text x="1208.1" y="973.8" font-size="12" fill="#000" stroke="#000" stroke-width="0.1" textLength="55.8" lengthAdjust="spacing">4 Jan 2024</text>
<text x="1288.42" y="973.8" font-size="12" fill="#000" stroke="#000" stroke-width="0.1" textLength="62.2" lengthAdjust="spacing">16 Jan 2024</text>
<text x="1368.74" y="973.8" font-size="12" fill="#000" stroke="#000" stroke-width="0.1" textLength="62.7" lengthAdjust="spacing">26 Jan 2024</text>
<path d="M2.9 958.2v4M83.22 958.2v4M163.54 958.2v4M243.86 958.2v4M324.18 958.2v4M404.5 958.2v4M484.82 958.2v4M565.14 958.2v4M645.46 958.2v4M725.78 958.2v4M806.1 958.2v4M886.42 958.2v4M966.74 958.2v4M1047.06 958.2v4M1127.38 958.2v4M1207.7 958.2v4M1288.02 958.2v4M1368.34 958.2v4" stroke="#000" stroke-width="1.2"/>
<text x="60.9" y="21.1" font-size="12.3" fill="#000" stroke="#000" stroke-width="0.1" textLength="154.7" lengthAdjust="spacing">US500, Daily:&#160; S&amp;P 500 CFD</text>
<g stroke-width="1.3" fill="none" stroke-linejoin="round"><path d="M17.8 10.5H10.7Q9.5 10.5 9.5 11.7V22Q9.5 23.2 10.7 23.2H17.8z" stroke="#d0392f" fill="#fff6f4"/><path d="M17.8 10.5H25.8Q27 10.5 27 11.7V22Q27 23.2 25.8 23.2H17.8z" stroke="#2c5ea8" fill="#f2f7fc"/><path d="M11.2 13.3H17.4M11.2 16.9H17.4M11.2 20.4H17.4" stroke="#d0392f"/><path d="M19.1 13.3H24.8M19.1 16.9H24.8M19.1 20.4H24.8" stroke="#2c5ea8"/><path d="M35.9 10.5H39.6V16H43V23.2H35.9z" stroke="#d0392f" fill="#fbe0da"/><path d="M49.3 10.5H53.2V23.2H45.8V16H49.3z" stroke="#2c5ea8" fill="#d4e8fa"/><rect x="42.3" y="10.9" width="4.8" height="2.3" rx="1" stroke="#a8a8a8"/></g>
</svg></body></html>
